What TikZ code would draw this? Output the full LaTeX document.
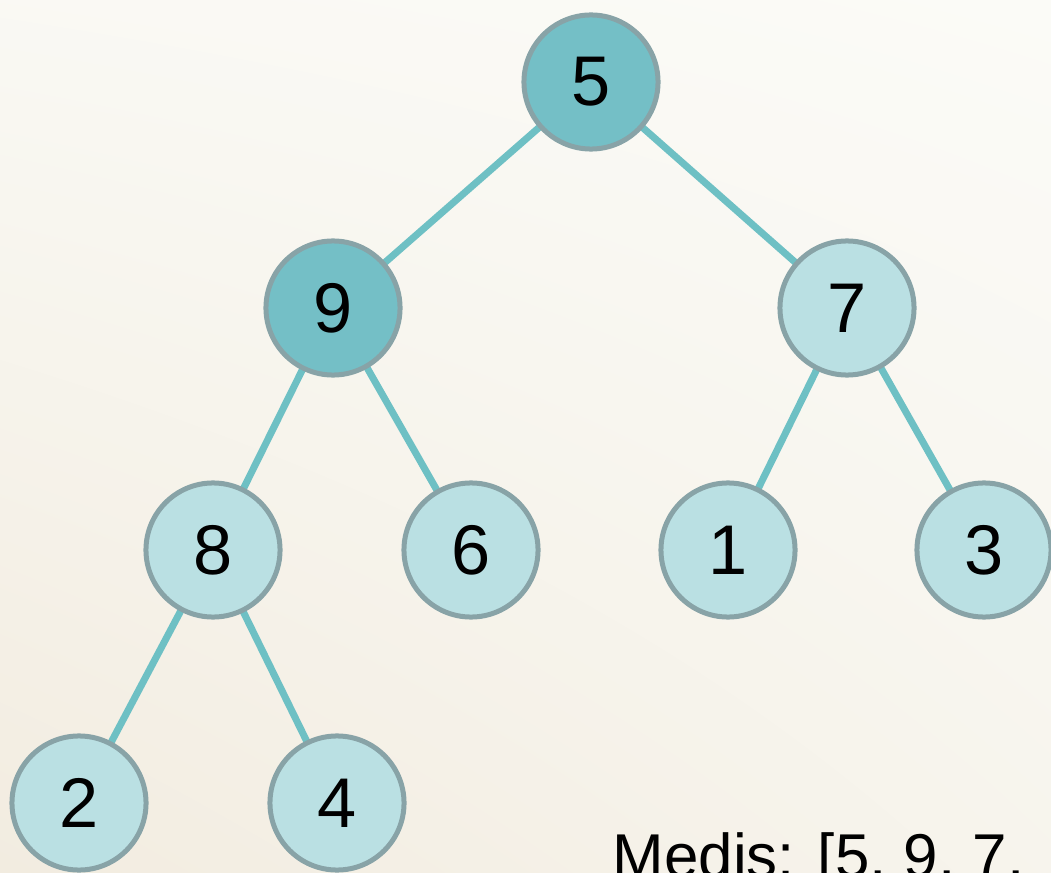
\documentclass[tikz,border=0pt]{standalone}
\usepackage{fontspec}
\setmainfont{Liberation Sans}
\usetikzlibrary{backgrounds, shadings}

\definecolor{darkteal}{HTML}{74BFC6}
\definecolor{lightteal}{HTML}{BAE0E3}
\definecolor{ringgray}{HTML}{88A3A7}
\definecolor{edgeteal}{HTML}{6EC0C4}
\definecolor{paperlight}{HTML}{FBFBF7}
\definecolor{paperdark}{HTML}{F2ECE0}

\begin{document}
\begin{tikzpicture}[x=0.01cm, y=-0.01cm,
    heapnode/.style={circle, draw=ringgray, line width=0.05cm, fill=lightteal,
        minimum size=1.34cm, inner sep=0pt, font=\fontsize{20}{24}\selectfont},
    swapped/.style={heapnode, fill=darkteal},
    heapedge/.style={draw=edgeteal, line width=0.07cm}]
                \useasboundingbox (0,0) rectangle (1051,873);
                \clip (0,0) rectangle (1051,873);

                % Nodes:
                \node[swapped] (n5) at (591,82) {5};
                \node[swapped] (n9) at (333,308) {9};
                \node[heapnode] (n7) at (847,308) {7};
                \node[heapnode] (n8) at (213,550) {8};
                \node[heapnode] (n6) at (471,550) {6};
                \node[heapnode] (n1) at (728,550) {1};
                \node[heapnode] (n3) at (984,550) {3};
                \node[heapnode] (n2) at (79,803) {2};
                \node[heapnode] (n4) at (337,803) {4};

                % Array:
                \node[anchor=base west, inner sep=0pt, font=\fontsize{17.6}{21}\selectfont]
                    (arr) at (612,877) {Medis: [5, 9, 7,};

                \begin{scope}[on background layer]
                    % Paper:
                    \shade[lower left=paperdark, upper left=paperlight!85!paperdark,
                        upper right=paperlight, lower right=paperlight!55!paperdark]
                        (0,0) rectangle (1051,873);
                    % Edges:
                    \draw[heapedge] (n5.center) -- (n9.center);
                    \draw[heapedge] (n5.center) -- (n7.center);
                    \draw[heapedge] (n9.center) -- (n8.center);
                    \draw[heapedge] (n9.center) -- (n6.center);
                    \draw[heapedge] (n7.center) -- (n1.center);
                    \draw[heapedge] (n7.center) -- (n3.center);
                    \draw[heapedge] (n8.center) -- (n2.center);
                    \draw[heapedge] (n8.center) -- (n4.center);
                \end{scope}
            \end{tikzpicture}
\end{document}
